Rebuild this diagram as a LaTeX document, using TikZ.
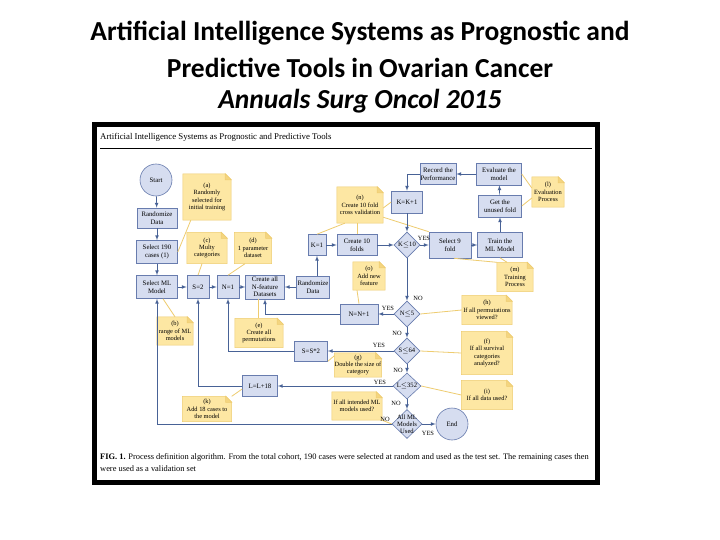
\documentclass[tikz,border=0pt]{standalone}
\usepackage{fontspec}
\setmainfont{Liberation Serif}
\newfontfamily\titlefont{Carlito}
\usetikzlibrary{arrows,shapes.geometric,calc}
\definecolor{boxfill}{RGB}{214,221,240}
\definecolor{boxline}{RGB}{104,124,174}
\definecolor{flowline}{RGB}{72,98,150}
\definecolor{notefill}{RGB}{253,231,163}
\definecolor{noteline}{RGB}{238,204,112}
\definecolor{notecorner}{RGB}{244,213,128}
\pgfdeclarelayer{paper}
\pgfdeclarelayer{background}
\pgfsetlayers{paper,background,main}
\tikzstyle{box}=[rectangle, draw=boxline, fill=boxfill, line width=0.6pt, inner sep=0.5pt, align=center, font=\fontsize{6.8}{7.6}\selectfont]
\tikzstyle{test}=[diamond, draw=boxline, fill=boxfill, line width=0.6pt, inner sep=-3pt, align=center, font=\fontsize{6.6}{6.8}\selectfont]
\tikzstyle{term}=[circle, draw=boxline, fill=boxfill, line width=0.6pt, inner sep=0pt, font=\fontsize{6.8}{7}\selectfont]
\tikzstyle{note}=[rectangle, inner sep=0pt, align=center, font=\fontsize{6.4}{7.3}\selectfont]
\tikzstyle{arr}=[draw=flowline, line width=0.7pt, ->, >=latex]
\tikzstyle{link}=[draw=noteline, line width=0.8pt]
\tikzstyle{lab}=[inner sep=0pt, font=\fontsize{6.4}{6.4}\selectfont]
\newcommand{\foldnote}[1]{
	\begin{pgfonlayer}{background}
		\filldraw[fill=notefill, draw=noteline, line width=0.5pt] (#1.south west) -- (#1.north west) -- ([xshift=-6pt]#1.north east) -- ([yshift=-6pt]#1.north east) -- (#1.south east) -- cycle;
		\filldraw[fill=notecorner, draw=noteline, line width=0.5pt] ([xshift=-6pt]#1.north east) -- ([xshift=-6pt,yshift=-6pt]#1.north east) -- ([yshift=-6pt]#1.north east) -- cycle;
	\end{pgfonlayer}
}

\begin{document}
\begin{tikzpicture}[x=1pt, y=-1pt]
      \begin{pgfonlayer}{paper}
        \fill[white] (0,0) rectangle (720,540);
      \end{pgfonlayer}
      \useasboundingbox (0,0) rectangle (720,540);
      % title
      \node[font=\titlefont\bfseries\fontsize{27.5}{30}\selectfont] (t1) at (360,33) {Artificial Intelligence Systems as Prognostic and};
      \node[font=\titlefont\bfseries\fontsize{27.5}{30}\selectfont] (t2) at (360,68) {Predictive Tools in Ovarian Cancer};
      \node[font=\titlefont\bfseries\itshape\fontsize{27.5}{30}\selectfont] (t3) at (360,101) {Annuals Surg Oncol 2015};
      % frame of the figure
      \draw[line width=5pt] (94.5,124.5) rectangle (597.5,482);
      \node[anchor=west, inner sep=0pt, font=\fontsize{8.8}{9}\selectfont] (head) at (100,137) {Artificial Intelligence Systems as Prognostic and Predictive Tools};
      \draw[line width=0.6pt] (100,148) -- (592,148);
      %
      \node[term, minimum size=32pt] (start) at (156,180) {Start};
      \node[box, minimum width=40pt, minimum height=20pt] (rd1) at (157,218) {Randomize\\Data};
      \node[box, minimum width=41pt, minimum height=23pt] (sel190) at (157,252) {Select 190\\cases (1)};
      \node[box, minimum width=41pt, minimum height=23pt] (selml) at (157,287) {Select ML\\Model};
      \node[box, minimum width=22pt, minimum height=23pt] (s2) at (198,287) {S=2};
      \node[box, minimum width=22pt, minimum height=23pt] (n1) at (228,287) {N=1};
      \node[box, minimum width=39pt, minimum height=24pt] (cand) at (265,287) {Create all\\N-feature\\Datasets};
      \node[box, minimum width=33pt, minimum height=22pt] (rd2) at (313,287) {Randomize\\Data};
      \node[box, minimum width=18pt, minimum height=21pt] (k1) at (317,245) {K=1};
      \node[box, minimum width=40pt, minimum height=21pt] (c10) at (357,245) {Create 10\\folds};
      \node[test, minimum width=26pt, minimum height=26pt] (kdia) at (407,245) {K${\leq}$10};
      \node[box, minimum width=31pt, minimum height=22pt] (kk) at (407,202) {K=K+1};
      \node[box, minimum width=36pt, minimum height=21pt] (rec) at (438,174) {Record the\\Performance};
      \node[box, minimum width=45pt, minimum height=22pt] (eval) at (499,174) {Evaluate the\\model};
      \node[box, minimum width=43pt, minimum height=22pt] (getf) at (500,206) {Get the\\unused fold};
      \node[box, minimum width=45pt, minimum height=25pt] (train) at (500,245) {Train the\\ML Model};
      \node[box, minimum width=42pt, minimum height=26pt] (sel9) at (450,245) {Select 9\\fold};
      \node[test, minimum width=26pt, minimum height=26pt] (ndia) at (407,314) {N${\leq}$5};
      \node[box, minimum width=38pt, minimum height=20pt] (nn) at (359,314) {N=N+1};
      \node[test, minimum width=26pt, minimum height=26pt] (sdia) at (407,351) {S${\leq}$64};
      \node[box, minimum width=33pt, minimum height=20pt] (ss) at (311,351) {S=S*2};
      \node[test, minimum width=28pt, minimum height=26pt] (ldia) at (407,386) {L${\leq}$352};
      \node[box, minimum width=35pt, minimum height=21pt] (ll) at (260,386) {L=L+18};
      \node[test, minimum width=30pt, minimum height=29pt] (adia) at (407,424) {All ML\\Models\\Used};
      \node[term, minimum size=32pt] (endc) at (452,424) {End};
      % notes
      \node[note, minimum width=48pt, minimum height=46pt] (notea) at (207,197) {(a)\\Randomly\\selected for\\initial training};
      \node[note, minimum width=40pt, minimum height=31pt] (notec) at (207,248) {(c)\\Multy\\categories};
      \node[note, minimum width=37pt, minimum height=31pt] (noted) at (253,248) {(d)\\1 parameter\\dataset};
      \node[note, minimum width=36pt, minimum height=28pt] (noteb) at (175,331) {(b)\\range of ML\\models};
      \node[note, minimum width=48pt, minimum height=29pt] (notee) at (259,333) {(e)\\Create all\\permutations};
      \node[note, minimum width=47pt, minimum height=24pt] (noteg) at (358,365) {(g)\\Double the size of\\category};
      \node[note, minimum width=49pt, minimum height=25pt] (notek) at (207,409) {(k)\\Add 18 cases to\\the model};
      \node[note, minimum width=50pt, minimum height=28pt] (notej) at (357,406) {If all intended ML\\models used?};
      \node[note, minimum width=50pt, minimum height=29pt] (noteh) at (487,310) {(h)\\If all permutations\\viewed?};
      \node[note, minimum width=51pt, minimum height=43pt] (notef) at (487,353) {(f)\\If all survival\\categories\\analyzed?};
      \node[note, minimum width=51pt, minimum height=29pt] (notei) at (487,395) {(i)\\If all data used?};
      \node[note, minimum width=32pt, minimum height=30pt] (notel) at (548,192) {(l)\\Evaluation\\Process};
      \node[note, minimum width=36pt, minimum height=29pt] (notem) at (515,277) {(m)\\Training\\Process};
      \node[note, minimum width=46pt, minimum height=36pt] (noten) at (360,205) {(n)\\Create 10 fold\\cross validation};
      \node[note, minimum width=32pt, minimum height=28pt] (noteo) at (369,276) {(o)\\Add new\\feature};
      \foreach \n in {notea,noteb,notec,noted,notee,notef,noteg,noteh,notei,notej,notek,notel,notem,noten,noteo}
        {\foldnote{\n}}
      % note links
      \draw[link] ([xshift=8pt]notea.south west) -- (sel190.east);
      \draw[link] ([xshift=-5pt]notec.south) -- (s2.north);
      \draw[link] ([xshift=-8pt]noted.south) -- (n1.north);
      \draw[link] (noteb.north) -- ([xshift=6pt]selml.south);
      \draw[link] ([xshift=-1pt]notee.north) -- ([xshift=-7pt]cand.south);
      \draw[link] ([yshift=-3pt]noteg.north west) -- (ss.south east);
      \draw[link] (notek.north east) -- ([yshift=-3pt]ll.west);
      \draw[link] (notej.south east) -- (adia.west);
      \draw[link] (noteh.west) -- (ndia.east);
      \draw[link] (notef.west) -- (sdia.east);
      \draw[link] (notei.west) -- (ldia.east);
      \draw[link] ([yshift=4pt]notel.west) -- (eval.east);
      \draw[link] ([yshift=-6pt]notel.west) -- (getf.east);
      \draw[link] ([xshift=-8pt]notem.north) -- (train.south);
      \draw[link] (notem.north west) -- ([xshift=4pt]sel9.south);
      \draw[link] ([yshift=-3pt]noten.east) -- (kk.west);
      \draw[link] ([xshift=8pt]noten.south west) -- (k1.north);
      \draw[link] ([xshift=-3pt]noten.south) -- (c10.north);
      \draw[link] ([yshift=6pt]noten.south east) -- (sel9.north west);
      \draw[link] ([xshift=-12pt]noteo.south) -- (nn.north);
      % flow
      \draw[arr] (start) -- (rd1);
      \draw[arr] (rd1) -- (sel190);
      \draw[arr] (sel190) -- (selml);
      \draw[arr] (selml) -- (s2);
      \draw[arr] (s2) -- (n1);
      \draw[arr] (n1) -- (cand);
      \draw[arr] (rd2) -- (cand);
      \draw[arr] (rd2.north -| k1) -- (k1.south);
      \draw[arr] (k1) -- (c10);
      \draw[arr] (c10) -- (kdia);
      \draw[arr] (kdia) -- (sel9);
      \draw[arr] (sel9) -- (train);
      \draw[arr] (train) -- (getf);
      \draw[arr] (getf) -- (eval);
      \draw[arr] (eval) -- (rec);
      \draw[arr] (rec.west) -| (kk.north);
      \draw[arr] (kk) -- (kdia);
      \draw[arr] (kdia) -- (ndia);
      \draw[arr] (ndia) -- (nn);
      \draw[arr] (nn.west) -| (cand.south);
      \draw[arr] (ndia) -- (sdia);
      \draw[arr] (sdia) -- (ss);
      \draw[arr] (ss.west) -| (n1.south);
      \draw[arr] (sdia) -- (ldia);
      \draw[arr] (ldia) -- (ll);
      \draw[arr] (ll.west) -| (s2.south);
      \draw[arr] (ldia) -- (adia);
      \draw[arr] (adia) -- (endc);
      \draw[arr] (adia.west) -| (selml.south);
      % yes / no
      \node[lab] (y1) at (424,238) {YES};
      \node[lab] (n2) at (418,298) {NO};
      \node[lab] (y2) at (388,308) {YES};
      \node[lab] (n3) at (397,333) {NO};
      \node[lab] (y3) at (379,345) {YES};
      \node[lab] (n4) at (398,370) {NO};
      \node[lab] (y4) at (380,382) {YES};
      \node[lab] (n5) at (396,403) {NO};
      \node[lab] (n6) at (385,419) {NO};
      \node[lab] (y5) at (428,433) {YES};
      % caption
      \node[anchor=west, inner sep=0pt, font=\fontsize{8.4}{9}\selectfont] (cap1) at (100,457) {\textbf{FIG. 1.} Process definition algorithm. From the total cohort, 190 cases were selected at random and used as the test set. The remaining cases then};
      \node[anchor=west, inner sep=0pt, font=\fontsize{8.4}{9}\selectfont] (cap2) at (100,469) {were used as a validation set};
\end{tikzpicture}
\end{document}
